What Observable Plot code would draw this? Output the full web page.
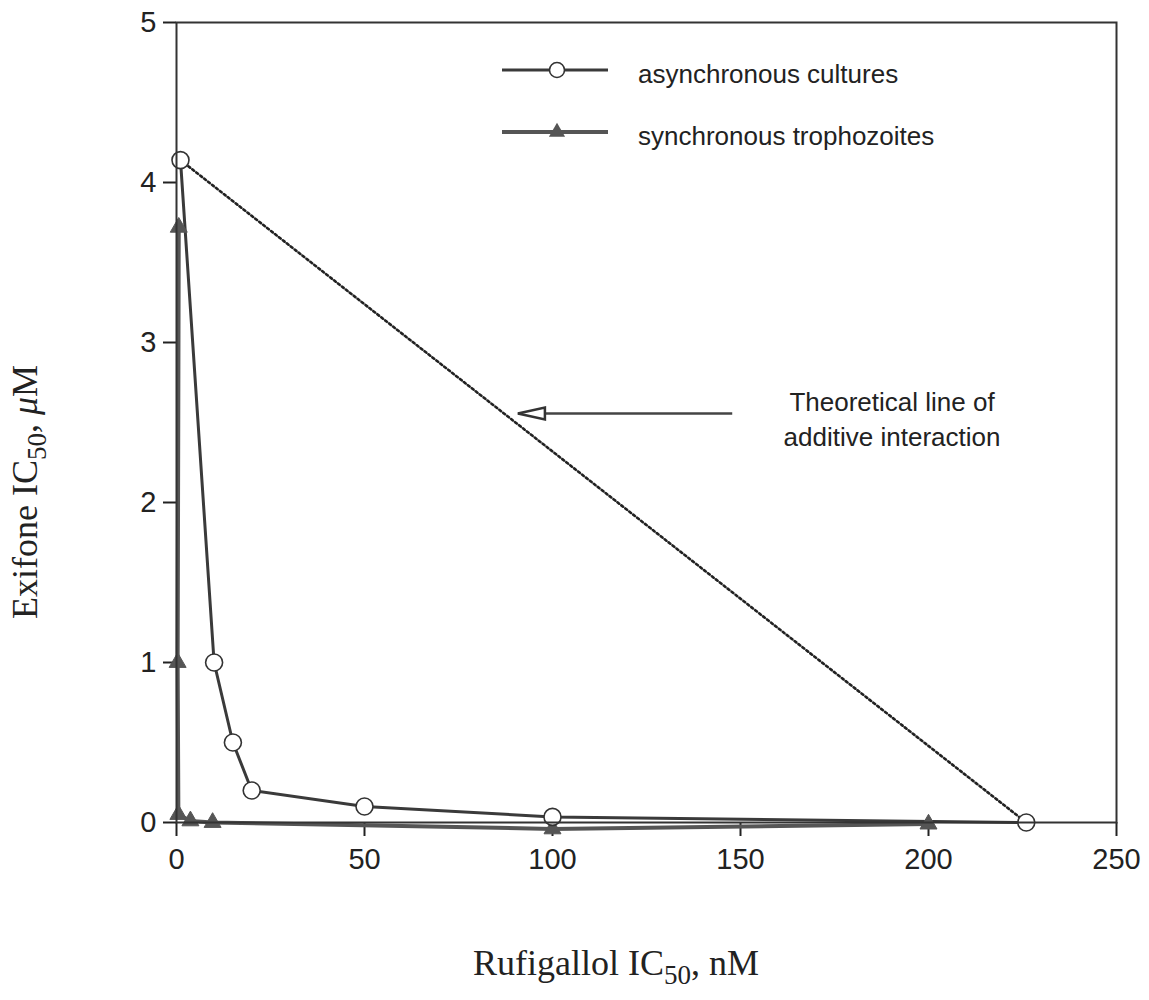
<!DOCTYPE html>
<html><head><meta charset="utf-8">
<script src="https://cdn.jsdelivr.net/npm/d3@7"></script>
<script src="https://cdn.jsdelivr.net/npm/@observablehq/plot@0.6"></script>
<style>body{margin:0;background:#fff}</style>
</head><body><div id="chart"></div>
<script>
// ---- data ----
const asyncX = [1.06, 10, 15, 20, 50, 100, 226];
const asyncY = [4.14, 1.0, 0.5, 0.2, 0.1, 0.035, 0];
const syncX = [0.6, 0.3, 0.5, 3.7, 9.6, 100, 200];
const syncY = [3.72, 1.0, 0.05, 0.01, 0.0, -0.04, -0.01];
const additiveX = [1.06, 226];
const additiveY = [4.14, 0];
const xTicks = [0, 50, 100, 150, 200, 250];
const yTicks = [0, 1, 2, 3, 4, 5];
const seriesNames = ["asynchronous cultures", "synchronous trophozoites"];
const annotationLines = ["Theoretical line of", "additive interaction"];
const annotationAt = [190.3, 2.53];
const arrowFrom = [147.8, 2.556];
const arrowTo = [90.8, 2.556];
const xTitle = ["Rufigallol IC", "50", ", nM"];
const yTitle = ["Exifone IC", "50", ", ", "\u03bc", "M"];

// ---- tables ----
const asyncData = asyncX.map((x, i) => ({x, y: asyncY[i]}));
const syncData = syncX.map((x, i) => ({x, y: syncY[i]}));
const additiveData = additiveX.map((x, i) => ({x, y: additiveY[i]}));
const arrowData = [{x1: arrowFrom[0], y1: arrowFrom[1], x2: arrowTo[0], y2: arrowTo[1]}];

const arrowHead = {draw(ctx) { const L = 27, h = 6; ctx.moveTo(0, 0); ctx.lineTo(L, -h); ctx.lineTo(L, h); ctx.closePath(); }};

const sans = "'Liberation Sans', Arial, Helvetica, sans-serif";
const serif = "'Liberation Serif', 'Times New Roman', serif";

const chart = Plot.plot({
  width: 1149,
  height: 1000,
  marginLeft: 176,
  marginRight: 33,
  marginTop: 22,
  marginBottom: 178,
  style: {fontFamily: sans, fontSize: "29px", color: "#222", background: "#fff"},
  x: {domain: [0, 250]},
  y: {domain: [0, 5]},
  marks: [
    Plot.axisX({ticks: xTicks, tickFormat: d3.format("d"), tickSize: 14, tickPadding: 12, fontSize: 29, strokeWidth: 2, label: null, color: "#222"}),
    Plot.axisY({ticks: yTicks, tickFormat: d3.format("d"), tickSize: 13, tickPadding: 7, fontSize: 29, strokeWidth: 2, label: null, color: "#222"}),
    Plot.line(additiveData, {x: "x", y: "y", stroke: "#222", strokeWidth: 2.6, strokeDasharray: "2.2,2.8"}),
    Plot.line(syncData, {x: "x", y: "y", stroke: "#555", strokeWidth: 4}),
    Plot.line(asyncData, {x: "x", y: "y", stroke: "#3a3a3a", strokeWidth: 3}),
    Plot.dot(syncData, {x: "x", y: "y", symbol: "triangle", r: 6.3, fill: "#555", stroke: "#555", strokeWidth: 1}),
    Plot.dot(asyncData, {x: "x", y: "y", r: 8.5, fill: "#fff", stroke: "#333", strokeWidth: 1.6}),
    Plot.link(arrowData, {x1: "x1", y1: "y1", x2: "x2", y2: "y2", stroke: "#444", strokeWidth: 2.5}),
    Plot.dot(arrowData, {x: "x2", y: "y2", symbol: arrowHead, r: 5, fill: "#fff", stroke: "#333", strokeWidth: 2.5}),
    Plot.text([annotationLines.join("\n")], {x: () => annotationAt[0], y: () => annotationAt[1], text: d => d, fontSize: 26, lineHeight: 1.35, fill: "#222", fontFamily: sans}),
    Plot.frame({stroke: "#333", strokeWidth: 2})
  ]
});
document.getElementById("chart").appendChild(chart);

const svg = d3.select(chart);

// legend
const leg = svg.append("g").attr("text-anchor", "start");
seriesNames.forEach((name, i) => {
  const y = 70 + i * 62;
  leg.append("line").attr("x1", 502).attr("x2", 608).attr("y1", y).attr("y2", y)
    .attr("stroke", i === 0 ? "#3a3a3a" : "#555").attr("stroke-width", i === 0 ? 3 : 4);
  if (i === 0) {
    leg.append("circle").attr("cx", 557).attr("cy", y).attr("r", 7.5)
      .attr("fill", "#fff").attr("stroke", "#333").attr("stroke-width", 1.6);
  } else {
    leg.append("path").attr("transform", `translate(557,${y})`)
      .attr("d", d3.symbol(d3.symbolTriangle, Math.PI * 6 * 6)())
      .attr("fill", "#555");
  }
  leg.append("text").attr("x", 638).attr("y", y + 13).attr("text-anchor", "start").attr("font-family", sans)
    .attr("font-size", 26).attr("fill", "#222").text(name);
});

// x title
const xt = svg.append("text").attr("x", 616).attr("y", 975).attr("text-anchor", "middle")
  .attr("font-family", serif).attr("font-size", 36).attr("fill", "#222");
xt.append("tspan").text(xTitle[0]);
xt.append("tspan").attr("dy", 9).attr("font-size", 27).text(xTitle[1]);
xt.append("tspan").attr("dy", -9).text(xTitle[2]);

// y title
const yt = svg.append("text").attr("transform", "translate(37,492) rotate(-90)").attr("text-anchor", "middle")
  .attr("font-family", serif).attr("font-size", 36).attr("fill", "#222");
yt.append("tspan").text(yTitle[0]);
yt.append("tspan").attr("dy", 9).attr("font-size", 27).text(yTitle[1]);
yt.append("tspan").attr("dy", -9).text(yTitle[2]);
yt.append("tspan").attr("font-style", "italic").text(yTitle[3]);
yt.append("tspan").text(yTitle[4]);
</script>
</body></html>
